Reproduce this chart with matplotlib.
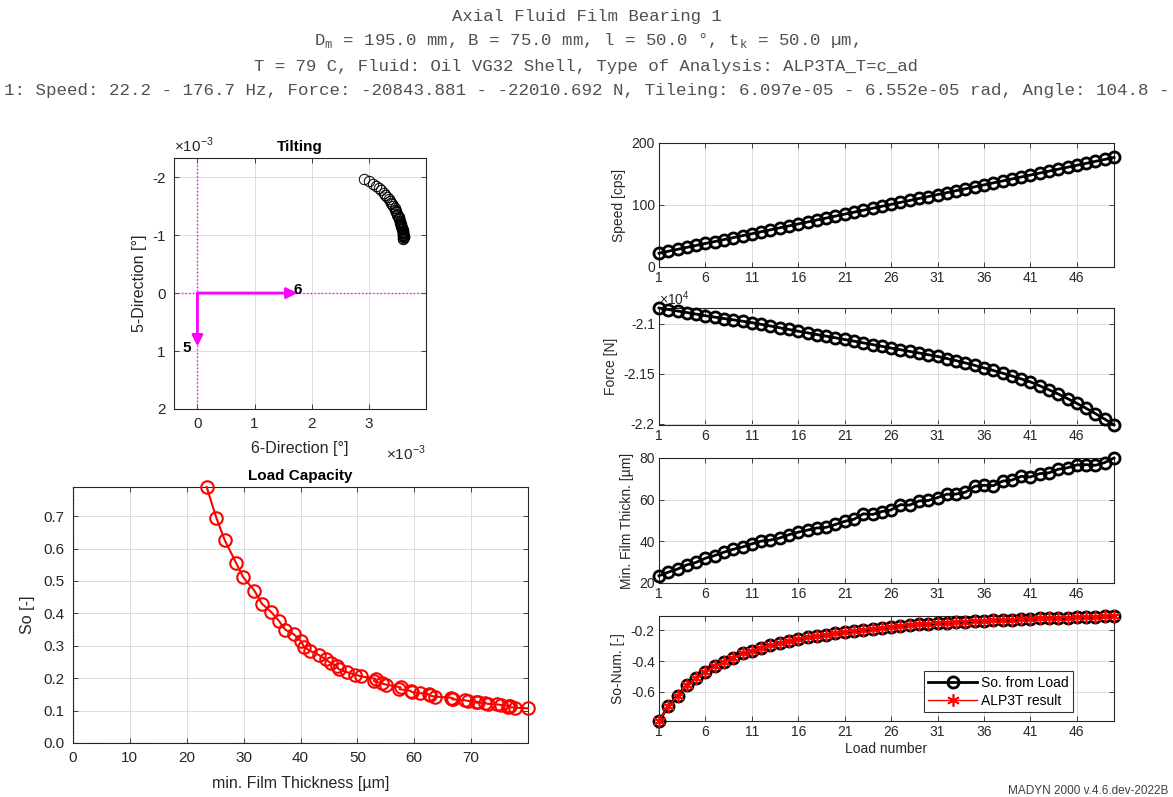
import matplotlib
matplotlib.use('Agg')
import matplotlib.pyplot as plt
from matplotlib.ticker import FuncFormatter

plt.rcParams['font.family'] = ['Liberation Sans', 'DejaVu Sans']
plt.rcParams['mathtext.fontset'] = 'custom'
plt.rcParams['mathtext.rm'] = 'Liberation Mono'
plt.rcParams['mathtext.sf'] = 'Liberation Sans'
plt.rcParams['axes.unicode_minus'] = False

TXT = '#262626'
GRID = '#dcdcdc'
MAG = '#ff00ff'
HEAD = '#505050'

# ---- data ----
load_no = list(range(1, 51))

speed = [22.2, 25.4, 28.5, 31.7, 34.8, 38.0, 41.1, 44.3, 47.4, 50.6,
         53.7, 56.9, 60.0, 63.2, 66.3, 69.5, 72.6, 75.8, 78.9, 82.1,
         85.3, 88.4, 91.6, 94.7, 97.9, 101.0, 104.2, 107.3, 110.5, 113.6,
         116.8, 119.9, 123.1, 126.2, 129.4, 132.5, 135.7, 138.8, 142.0, 145.2,
         148.3, 151.5, 154.6, 157.8, 160.9, 164.1, 167.2, 170.4, 173.5, 176.7]

force = [-20844, -20859, -20874, -20889, -20905, -20921, -20935, -20949, -20962, -20976,
         -20990, -21007, -21024, -21041, -21058, -21076, -21092, -21109, -21125, -21141,
         -21158, -21175, -21192, -21209, -21226, -21244, -21260, -21277, -21293, -21310,
         -21327, -21348, -21369, -21392, -21416, -21442, -21467, -21494, -21522, -21551,
         -21581, -21620, -21660, -21702, -21748, -21795, -21845, -21897, -21952, -22011]

film = [23.5, 25.2, 26.7, 28.7, 29.9, 31.9, 33.2, 34.8, 36.2, 37.3,
        38.8, 40.1, 40.6, 41.6, 43.2, 44.4, 45.4, 46.4, 46.7, 48.1,
        49.6, 50.6, 53.2, 52.9, 54.3, 55.1, 57.6, 57.4, 59.4, 59.6,
        61.0, 62.6, 62.7, 63.6, 66.4, 66.9, 66.7, 68.9, 69.4, 71.2,
        70.9, 72.5, 72.9, 74.6, 75.3, 76.7, 76.8, 76.5, 77.8, 80.0]

so_load = [0.790, 0.695, 0.625, 0.555, 0.512, 0.470, 0.430, 0.405, 0.377, 0.350,
           0.336, 0.314, 0.297, 0.285, 0.272, 0.258, 0.246, 0.238, 0.228, 0.219,
           0.211, 0.206, 0.198, 0.191, 0.184, 0.180, 0.172, 0.166, 0.161, 0.157,
           0.154, 0.150, 0.147, 0.143, 0.140, 0.137, 0.135, 0.132, 0.130, 0.127,
           0.125, 0.123, 0.121, 0.119, 0.117, 0.115, 0.113, 0.111, 0.109, 0.107]

so_num_load = [-v for v in so_load]
so_num_alp3t = [-v for v in so_load]

# tilting in 1e-3 deg
tilt6 = [2.92, 3.00, 3.07, 3.13, 3.18, 3.22, 3.26, 3.29, 3.32, 3.35,
         3.37, 3.39, 3.41, 3.43, 3.45, 3.46, 3.47, 3.48, 3.49, 3.50,
         3.51, 3.52, 3.53, 3.535, 3.54, 3.545, 3.55, 3.555, 3.56, 3.565,
         3.57, 3.575, 3.58, 3.583, 3.586, 3.589, 3.592, 3.595, 3.597, 3.599,
         3.601, 3.603, 3.604, 3.605, 3.606, 3.607, 3.607, 3.607, 3.606, 3.605]
tilt5 = [-1.97, -1.93, -1.89, -1.85, -1.81, -1.77, -1.73, -1.69, -1.66, -1.62,
         -1.59, -1.56, -1.53, -1.50, -1.47, -1.44, -1.42, -1.39, -1.37, -1.35,
         -1.33, -1.31, -1.29, -1.27, -1.25, -1.23, -1.21, -1.19, -1.18, -1.16,
         -1.15, -1.13, -1.12, -1.11, -1.10, -1.08, -1.07, -1.06, -1.05, -1.04,
         -1.03, -1.02, -1.01, -1.00, -0.99, -0.98, -0.97, -0.96, -0.95, -0.94]

load_ticks = [1, 6, 11, 16, 21, 26, 31, 36, 41, 46]

W, H = 1173, 797
fig = plt.figure(figsize=(W / 100, H / 100), dpi=100)


def px_axes(x0, y0, x1, y1):
    return fig.add_axes([x0 / W, 1 - y1 / H, (x1 - x0) / W, (y1 - y0) / H])


def style(ax, size=10, pad=3):
    ax.grid(True, color=GRID, linewidth=0.7)
    ax.set_axisbelow(True)
    ax.tick_params(direction='in', top=True, right=True, labelsize=size,
                   colors=TXT, length=3.5, width=0.6, pad=pad)
    for s in ax.spines.values():
        s.set_color(TXT)
        s.set_linewidth(0.8)


# ---- header ----
mono = ['Liberation Mono', 'DejaVu Sans Mono']
fig.text(0.5, 1 - 17 / H, 'Axial Fluid Film Bearing 1', ha='center', va='center',
         family=mono, fontsize=12.5, color=HEAD)
fig.text(0.5, 1 - 40 / H,
         r'D$_{\mathrm{m}}$ = 195.0 mm, B = 75.0 mm, l = 50.0 °, t$_{\mathrm{k}}$ = 50.0 µm,',
         ha='center', va='center', family=mono, fontsize=12.5, color=HEAD)
fig.text(0.5, 1 - 67 / H, 'T = 79 C, Fluid: Oil VG32 Shell, Type of Analysis: ALP3TA_T=c_ad',
         ha='center', va='center', family=mono, fontsize=12.5, color=HEAD)
fig.text(0.5, 1 - 90 / H,
         '1: Speed: 22.2 - 176.7 Hz, Force: -20843.881 - -22010.692 N, '
         'Tileing: 6.097e-05 - 6.552e-05 rad, Angle: 104.8 -',
         ha='center', va='center', family=mono, fontsize=12.6, color=HEAD)
fig.text(1168 / W, 1 - 791 / H, 'MADYN 2000 v.4.6.dev-2022B', ha='right', va='center',
         fontsize=8.5, color='#404040')

# ---- Tilting ----
ax = px_axes(174, 158, 426, 409)
style(ax, size=11, pad=6)
ax.axvline(0, color=MAG, ls=':', lw=1)
ax.axhline(0, color=MAG, ls=':', lw=1)
ax.plot(tilt6, tilt5, 'o', mfc='none', mec='black', ms=7.5, mew=0.7)
ax.annotate('', xy=(1.75, 0), xytext=(0, 0),
            arrowprops=dict(arrowstyle='-|>', color=MAG, lw=2, mutation_scale=16,
                            shrinkA=0, shrinkB=0))
ax.annotate('', xy=(0, 0.92), xytext=(0, 0),
            arrowprops=dict(arrowstyle='-|>', color=MAG, lw=2, mutation_scale=16,
                            shrinkA=0, shrinkB=0))
ax.text(1.68, -0.06, '6', fontsize=11, fontweight='bold', ha='left', va='center')
ax.text(-0.12, 0.95, '5', fontsize=11, fontweight='bold', ha='right', va='center')
ax.set_xlim(-0.41, 4.0)
ax.set_ylim(2.0, -2.33)
ax.set_xticks([0, 1, 2, 3])
ax.set_yticks([-2, -1, 0, 1, 2])
ax.set_xlabel('6-Direction [°]', fontsize=11.5, color=TXT, labelpad=7)
ax.set_ylabel('5-Direction [°]', fontsize=11.5, color=TXT, labelpad=4)
ax.set_title('Tilting', fontsize=11, fontweight='bold', pad=5)
ax.text(0.0, 1.01, '×10$^{\\mathsf{-3}}$', transform=ax.transAxes, fontsize=11,
        color=TXT, ha='left', va='bottom')
ax.text(1.0, -0.175, '×10$^{\\mathsf{-3}}$', transform=ax.transAxes, fontsize=11,
        color=TXT, ha='right', va='center')

# ---- Load capacity ----
ax = px_axes(73, 487, 528, 743)
style(ax, size=11, pad=6)
ax.plot(film, so_load, '-o', color='red', lw=1.5, mfc='none', mec='red', ms=9, mew=1.5,
        clip_on=False, zorder=3)
ax.axvline(0, color=MAG, ls=':', lw=1)
ax.axhline(0, color=MAG, ls=':', lw=1)
ax.set_xlim(0, max(film))
ax.set_ylim(0, max(so_load))
ax.set_xticks([0, 10, 20, 30, 40, 50, 60, 70])
ax.set_yticks([0, 0.1, 0.2, 0.3, 0.4, 0.5, 0.6, 0.7])
ax.set_xlabel('min. Film Thickness [µm]', fontsize=11.5, color=TXT, labelpad=8)
ax.set_ylabel('So [-]', fontsize=11.5, color=TXT, labelpad=6)
ax.set_title('Load Capacity', fontsize=11, fontweight='bold', pad=5)

# ---- right column ----
blk = dict(color='black', lw=2, marker='o', mfc='none', mec='black', ms=8, mew=2,
           clip_on=False, zorder=3)

ax = px_axes(659, 143, 1114, 267)
style(ax)
ax.plot(load_no, speed, **blk)
ax.set_xlim(1, 50)
ax.set_ylim(0, 200)
ax.set_yticks([0, 100, 200])
ax.set_xticks(load_ticks)
ax.set_ylabel('Speed [cps]', fontsize=10, color=TXT)

ax = px_axes(659, 308, 1114, 425)
style(ax)
ax.plot(load_no, force, **blk)
ax.set_xlim(1, 50)
ax.set_ylim(min(force), max(force))
ax.set_yticks([-22000, -21500, -21000])
ax.yaxis.set_major_formatter(FuncFormatter(lambda v, p: f'{v / 1e4:g}'))
ax.set_xticks(load_ticks)
ax.set_ylabel('Force [N]', fontsize=10, color=TXT)
ax.text(0.0, 1.0, '×10$^{\\mathsf{4}}$', transform=ax.transAxes, fontsize=10,
        color=TXT, ha='left', va='bottom')

ax = px_axes(659, 458, 1114, 583)
style(ax)
ax.plot(load_no, film, **blk)
ax.set_xlim(1, 50)
ax.set_ylim(20, 80)
ax.set_yticks([20, 40, 60, 80])
ax.set_xticks(load_ticks)
ax.set_ylabel('Min. Film Thickn. [µm]', fontsize=10, color=TXT)

ax = px_axes(659, 616, 1114, 721)
style(ax)
ax.plot(load_no, so_num_load, label='So. from Load', **blk)
ax.plot(load_no, so_num_alp3t, '-', marker=(6, 2, 0), color='red', lw=1, ms=9, mew=1.2,
        label='ALP3T result', clip_on=False, zorder=4)
ax.set_xlim(1, 50)
ax.set_ylim(min(so_num_load), max(so_num_load))
ax.set_yticks([-0.6, -0.4, -0.2])
ax.set_xticks(load_ticks)
ax.set_ylabel('So-Num. [-]', fontsize=10, color=TXT)
ax.set_xlabel('Load number', fontsize=10, color=TXT, labelpad=2)
leg = ax.legend(loc='lower right', bbox_to_anchor=(0.925, 0.02), fontsize=10,
                frameon=True, fancybox=False, handlelength=3.5, borderpad=0.3,
                labelspacing=0.3, handletextpad=0.3)
leg.get_frame().set_edgecolor('black')
leg.get_frame().set_linewidth(0.8)

fig.savefig('out.png', dpi=100)
